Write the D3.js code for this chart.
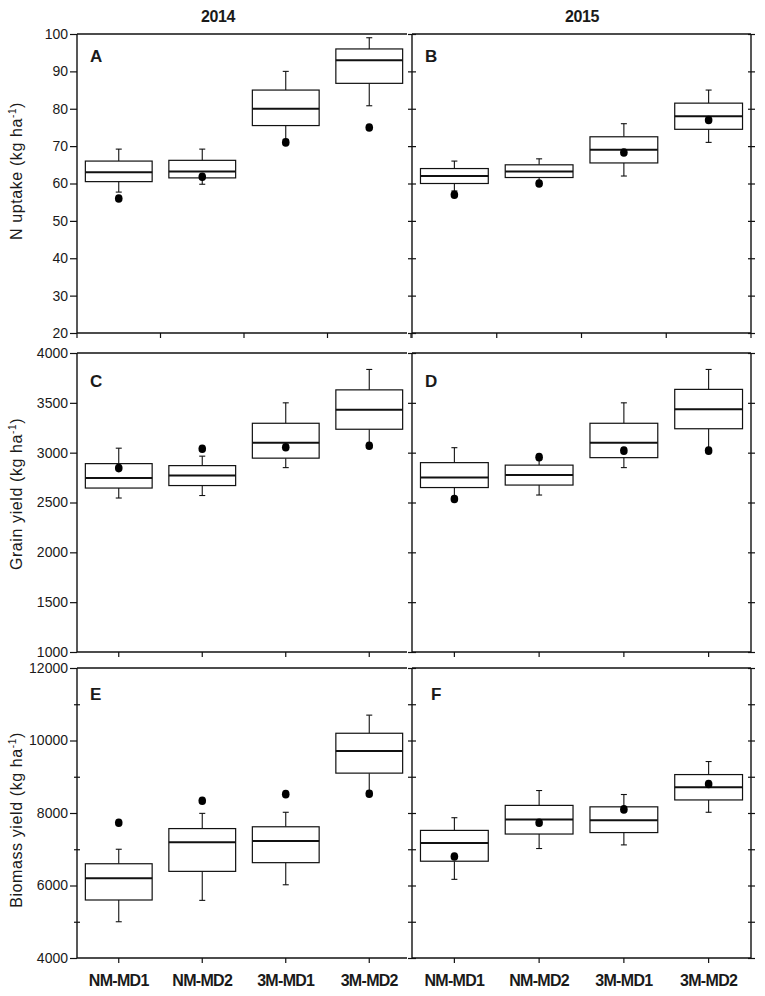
<!DOCTYPE html>
<html>
<head>
<meta charset="utf-8">
<script src="https://cdn.jsdelivr.net/npm/d3@7"></script>
<style>
  body { margin: 0; background: #fff; }
  text { font-family: "Liberation Sans", Arial, sans-serif; fill: #1a1a1a; }
</style>
</head>
<body>
<div id="chart"></div>
<script>
// Treatments on the x axis
const categories = ["NM-MD1", "NM-MD2", "3M-MD1", "3M-MD2"];

// Box stats per panel: whisker low, q1, median, q3, whisker high, measured value (dot)
const panelA = [
    {min: 57.7, q1: 60.5, med: 63.0, q3: 66.0, max: 69.2, dot: 56.0},
    {min: 59.8, q1: 61.5, med: 63.2, q3: 66.2, max: 69.2, dot: 61.8},
    {min: 71.8, q1: 75.5, med: 80.0, q3: 85.0, max: 90.0, dot: 71.0},
    {min: 80.8, q1: 86.8, med: 93.0, q3: 96.0, max: 99.0, dot: 75.0}
];
const panelB = [
    {min: 58.0, q1: 60.0, med: 62.0, q3: 64.0, max: 66.0, dot: 57.0},
    {min: 60.5, q1: 61.6, med: 63.2, q3: 65.0, max: 66.6, dot: 60.0},
    {min: 62.0, q1: 65.5, med: 69.0, q3: 72.5, max: 76.0, dot: 68.3},
    {min: 71.0, q1: 74.5, med: 78.0, q3: 81.5, max: 85.0, dot: 77.0}
];
const panelC = [
    {min: 2545, q1: 2645, med: 2745, q3: 2890, max: 3045, dot: 2845},
    {min: 2570, q1: 2670, med: 2770, q3: 2870, max: 2965, dot: 3040},
    {min: 2850, q1: 2945, med: 3100, q3: 3295, max: 3500, dot: 3055},
    {min: 3050, q1: 3235, med: 3430, q3: 3630, max: 3835, dot: 3070}
];
const panelD = [
    {min: 2560, q1: 2650, med: 2750, q3: 2900, max: 3050, dot: 2535},
    {min: 2575, q1: 2675, med: 2775, q3: 2875, max: 2930, dot: 2955},
    {min: 2850, q1: 2950, med: 3100, q3: 3295, max: 3500, dot: 3020},
    {min: 3040, q1: 3240, med: 3435, q3: 3635, max: 3835, dot: 3020}
];
const panelE = [
    {min: 5000, q1: 5600, med: 6200, q3: 6600, max: 7000, dot: 7730},
    {min: 5590, q1: 6390, med: 7190, q3: 7570, max: 7990, dot: 8340},
    {min: 6020, q1: 6630, med: 7230, q3: 7620, max: 8020, dot: 8520},
    {min: 8600, q1: 9100, med: 9710, q3: 10200, max: 10700, dot: 8530}
];
const panelF = [
    {min: 6170, q1: 6670, med: 7170, q3: 7520, max: 7870, dot: 6800},
    {min: 7020, q1: 7420, med: 7820, q3: 8210, max: 8620, dot: 7730},
    {min: 7120, q1: 7460, med: 7800, q3: 8170, max: 8510, dot: 8100},
    {min: 8020, q1: 8360, med: 8710, q3: 9060, max: 9420, dot: 8800}
];

// Axis ticks per row
const uptakeTicks = [20, 30, 40, 50, 60, 70, 80, 90, 100];
const grainTicks = [1000, 1500, 2000, 2500, 3000, 3500, 4000];
const biomassTicks = [4000, 5000, 6000, 7000, 8000, 9000, 10000, 11000, 12000];
const biomassLabels = [4000, 6000, 8000, 10000, 12000];

const years = ["2014", "2015"];
const yTitles = ["N uptake", "Grain yield", "Biomass yield"];

const width = 765, height = 996;
const svg = d3.select("#chart").append("svg")
    .attr("width", width)
    .attr("height", height);

// column / row geometry
const cols = [[77, 411], [412, 751]];
const rows = [
    {y0: 34, y1: 333, domain: [20, 100], ticks: uptakeTicks, labels: uptakeTicks, letterY: 62, titleY: 171, bandTicks: true},
    {y0: 353, y1: 652, domain: [1000, 4000], ticks: grainTicks, labels: grainTicks, letterY: 387, titleY: 494, bandTicks: false},
    {y0: 668, y1: 958, domain: [4000, 12000], ticks: biomassTicks, labels: biomassLabels, letterY: 700, titleY: 820, bandTicks: false}
];
const panels = [
    {row: 0, col: 0, data: panelA, letter: "A"},
    {row: 0, col: 1, data: panelB, letter: "B"},
    {row: 1, col: 0, data: panelC, letter: "C"},
    {row: 1, col: 1, data: panelD, letter: "D"},
    {row: 2, col: 0, data: panelE, letter: "E"},
    {row: 2, col: 1, data: panelF, letter: "F"}
];

const ink = "#111";

function drawPanel(p) {
    const r = rows[p.row];
    const [x0, x1] = cols[p.col];
    const g = svg.append("g");

    const x = d3.scaleBand().domain(categories).range([x0, x1]).padding(0);
    const y = d3.scaleLinear().domain(r.domain).range([r.y1, r.y0]);
    const boxWidth = x.bandwidth() * 0.8;
    const capWidth = 6;

    // left axis
    const left = g.append("g")
        .attr("transform", `translate(${x0},0)`)
        .call(d3.axisLeft(y).tickValues(r.ticks).tickSize(7).tickPadding(2)
            .tickFormat(d => (p.col === 0 && r.labels.includes(d)) ? d : ""));
    left.select(".domain").remove();
    left.selectAll(".tick line").attr("stroke", ink).attr("stroke-width", 1.2)
        .each(function(d) {
            const t = d3.select(this);
            if (p.col === 1) t.attr("x1", 4).attr("x2", -4);
            else if (!r.labels.includes(d)) t.attr("x1", 3).attr("x2", -3);
        });
    left.selectAll(".tick text").style("font-size", "14px").attr("fill", "#1a1a1a");

    // right axis for the 2015 column
    if (p.col === 1) {
        const right = g.append("g")
            .attr("transform", `translate(${x1},0)`)
            .call(d3.axisRight(y).tickValues(r.ticks).tickSize(4).tickFormat(""));
        right.select(".domain").remove();
        right.selectAll(".tick line").attr("stroke", ink).attr("stroke-width", 1.2).attr("x1", -3);
    }

    // bottom axis ticks
    const bottom = g.append("g").attr("transform", `translate(0,${r.y1})`);
    const tickX = r.bandTicks ? d3.range(categories.length + 1).map(i => x0 + i * x.step())
                              : categories.map(c => x(c) + x.bandwidth() / 2);
    bottom.selectAll("line")
        .data(tickX)
        .enter()
        .append("line")
            .attr("x1", d => d).attr("x2", d => d)
            .attr("y1", 0).attr("y2", 5)
            .attr("stroke", ink).attr("stroke-width", 1.2);

    // frame
    const frame = p.col === 0
        ? [[x0, r.y0, x1 - 4, r.y0], [x0, r.y0, x0, r.y1], [x0, r.y1, x1 - 4, r.y1]]
        : [[x0, r.y0, x1, r.y0], [x0, r.y0, x0, r.y1], [x0, r.y1, x1, r.y1], [x1, r.y0, x1, r.y1]];
    g.selectAll("frameLines")
        .data(frame)
        .enter()
        .append("line")
            .attr("x1", d => d[0]).attr("y1", d => d[1])
            .attr("x2", d => d[2]).attr("y2", d => d[3])
            .attr("stroke", ink).attr("stroke-width", 1.4);

    const cx = (d, i) => x(categories[i]) + x.bandwidth() / 2;

    // whiskers
    g.selectAll("upperWhisker")
        .data(p.data)
        .enter()
        .append("line")
            .attr("x1", cx).attr("x2", cx)
            .attr("y1", d => y(d.q3)).attr("y2", d => y(d.max))
            .attr("stroke", ink).attr("stroke-width", 1.1);
    g.selectAll("lowerWhisker")
        .data(p.data)
        .enter()
        .append("line")
            .attr("x1", cx).attr("x2", cx)
            .attr("y1", d => y(d.q1)).attr("y2", d => y(d.min))
            .attr("stroke", ink).attr("stroke-width", 1.1);
    ["max", "min"].forEach(k => {
        g.selectAll("caps" + k)
            .data(p.data)
            .enter()
            .append("line")
                .attr("x1", (d, i) => cx(d, i) - capWidth / 2)
                .attr("x2", (d, i) => cx(d, i) + capWidth / 2)
                .attr("y1", d => y(d[k])).attr("y2", d => y(d[k]))
                .attr("stroke", ink).attr("stroke-width", 1.1);
    });

    // boxes
    g.selectAll("boxes")
        .data(p.data)
        .enter()
        .append("rect")
            .attr("x", (d, i) => cx(d, i) - boxWidth / 2)
            .attr("y", d => y(d.q3))
            .attr("width", boxWidth)
            .attr("height", d => y(d.q1) - y(d.q3))
            .attr("fill", "#fff")
            .attr("stroke", ink)
            .attr("stroke-width", 1.2);

    // medians
    g.selectAll("medians")
        .data(p.data)
        .enter()
        .append("line")
            .attr("x1", (d, i) => cx(d, i) - boxWidth / 2)
            .attr("x2", (d, i) => cx(d, i) + boxWidth / 2)
            .attr("y1", d => y(d.med)).attr("y2", d => y(d.med))
            .attr("stroke", ink).attr("stroke-width", 2);

    // measured values
    g.selectAll("dots")
        .data(p.data)
        .enter()
        .append("ellipse")
            .attr("cx", cx)
            .attr("cy", d => y(d.dot))
            .attr("rx", 3.8).attr("ry", 4.3)
            .attr("fill", "#000");

    // panel letter
    g.append("text")
        .attr("x", x0 + (p.letter === "F" ? 19 : 13))
        .attr("y", r.letterY)
        .style("font-size", "17px")
        .style("font-weight", "bold")
        .text(p.letter);

    // category labels under the bottom row
    if (p.row === 2) {
        g.selectAll("catLabels")
            .data(categories)
            .enter()
            .append("text")
                .attr("x", d => x(d) + x.bandwidth() / 2)
                .attr("y", 986)
                .attr("text-anchor", "middle")
                .style("font-size", "16px")
                .style("font-weight", "bold")
                .style("letter-spacing", "-0.7px")
                .text(d => d);
    }
}

panels.forEach(drawPanel);

// year headings
svg.selectAll("yearTitles")
    .data(years)
    .enter()
    .append("text")
        .attr("x", (d, i) => i === 0 ? 218 : 582)
        .attr("y", 22)
        .attr("text-anchor", "middle")
        .style("font-size", "16px")
        .style("font-weight", "bold")
        .style("letter-spacing", "-0.4px")
        .text(d => d);

// y axis titles
yTitles.forEach((t, i) => {
    const label = svg.append("text")
        .attr("transform", `translate(22,${rows[i].titleY}) rotate(-90)`)
        .attr("text-anchor", "middle")
        .style("font-size", "16px")
        .style("letter-spacing", "0.6px");
    label.append("tspan").text(t + " (kg ha");
    label.append("tspan").attr("dy", -6).style("font-size", "10px").text("-1");
    label.append("tspan").attr("dy", 6).text(")");
});
</script>
</body>
</html>
